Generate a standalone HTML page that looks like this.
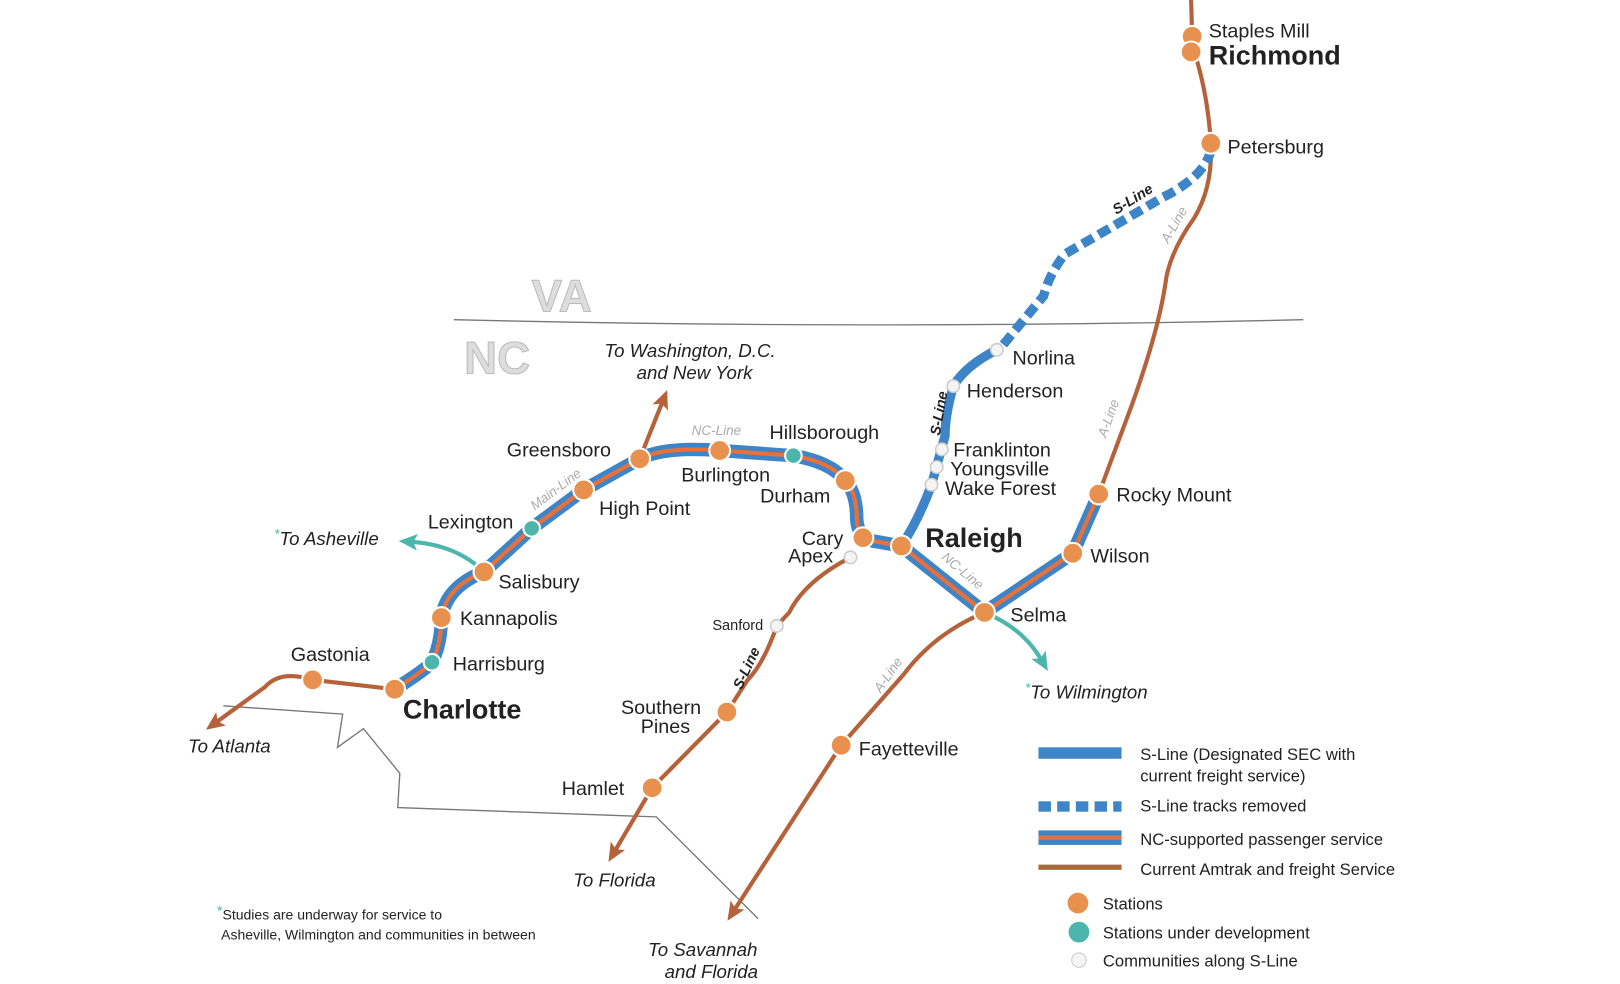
<!DOCTYPE html>
<html><head><meta charset="utf-8"><style>
html,body{margin:0;padding:0;background:#fff;}
svg{display:block;}
text{font-family:"Liberation Sans",sans-serif;fill:#222;}
.l{font-size:19px;}
.b{font-size:26px;font-weight:bold;}
.i{font-size:18px;font-style:italic;}
.g{font-size:13px;font-style:italic;fill:#aaa;}
.s{font-size:14px;font-style:italic;font-weight:bold;fill:#222;}
.lg{font-size:16px;}
</style></head><body>
<svg width="1620" height="984" viewBox="0 0 1560 948" preserveAspectRatio="none" xmlns="http://www.w3.org/2000/svg">
<defs>
<marker id="ab" markerWidth="18" markerHeight="16" refX="6" refY="8" orient="auto" markerUnits="userSpaceOnUse"><path d="M0,0 L18,8 L0,16 L4,8 Z" fill="#b5613a"/></marker>
<marker id="at" markerWidth="18" markerHeight="16" refX="6" refY="8" orient="auto" markerUnits="userSpaceOnUse"><path d="M0,0 L18,8 L0,16 L4,8 Z" fill="#4db6ac"/></marker>
</defs>
<path d="M437,308 Q846,318 1255,308" fill="none" stroke="#777" stroke-width="1.3"/>
<path d="M215,680 L330,688 L325,720 L350,702 L385,745 L383,778 L632,787 L730,885" fill="none" stroke="#777" stroke-width="1.3"/>
<text x="512" y="300" style="font-size:44px;font-weight:bold;fill:#ddd;stroke:#bbb;stroke-width:1">VA</text>
<text x="447" y="360" style="font-size:44px;font-weight:bold;fill:#ddd;stroke:#bbb;stroke-width:1">NC</text>

<g fill="none" stroke="#b5613a" stroke-width="4" stroke-linecap="round">
<path d="M1147,0 L1148,35 L1150,50 Q1163,90 1166,138 Q1168,180 1150,210 Q1125,245 1122,275 Q1115,320 1090,390 L1058,476"/>
<path d="M948,590 Q900,610 870,650 L810,718 L707,877" marker-end="url(#ab)"/>
<path d="M380,664 L301,655 Q270,645 255,662 L208,696" marker-end="url(#ab)"/>
<path d="M616,442 L638,387" marker-end="url(#ab)"/>
<path d="M819,537 Q775,560 760,590 L748,603 Q735,640 720,655 L700,686 L628,759 L592,820" marker-end="url(#ab)"/>
</g>
<g fill="none" stroke="#4db6ac" stroke-width="4">
<path d="M466,551 Q440,525 396,522" marker-end="url(#at)"/>
<path d="M948,590 Q985,605 1003,636" marker-end="url(#at)"/>
</g>
<path d="M1166,145 Q1160,170 1120,190 Q1060,225 1025,245 Q1010,265 1005,285 L962,337" fill="none" stroke="#3d85c6" stroke-width="9" stroke-dasharray="12,6"/>
<path d="M960,337 Q930,352 918,372 Q910,400 910,420 L897,467 Q885,500 868,526" fill="none" stroke="#3d85c6" stroke-width="9"/>
<path d="M380,664 Q410,645 416,638 Q425,620 425,595 Q430,565 466,551 L512,509 L562,472 L616,442 Q640,430 693,434 L764,439 Q800,445 814,463 Q825,475 825,500 Q826,520 845,522 L868,526 L948,590 L1033,533 L1058,476" fill="none" stroke="#3d85c6" stroke-width="13" stroke-linejoin="round"/>
<path d="M380,664 Q410,645 416,638 Q425,620 425,595 Q430,565 466,551 L512,509 L562,472 L616,442 Q640,430 693,434 L764,439 Q800,445 814,463 Q825,475 825,500 Q826,520 845,522 L868,526 L948,590 L1033,533 L1058,476" fill="none" stroke="#e8703a" stroke-width="4" stroke-linejoin="round"/>

<text class="s" transform="translate(1075,207) rotate(-32)">S-Line</text>
<text class="s" transform="translate(905,420) rotate(-80)">S-Line</text>
<text class="s" transform="translate(714,665) rotate(-65)">S-Line</text>
<text class="g" transform="translate(1125,235) rotate(-60)">A-Line</text>
<text class="g" transform="translate(1065,422) rotate(-70)">A-Line</text>
<text class="g" transform="translate(848,668) rotate(-55)">A-Line</text>
<text class="g" transform="translate(515,492) rotate(-37)">Main-Line</text>
<text class="g" x="666" y="419">NC-Line</text>
<text class="g" transform="translate(906,538) rotate(40)">NC-Line</text>

<g stroke="#fff" stroke-width="2">
<g fill="#e8914f">
<circle cx="1148" cy="35" r="10"/><circle cx="1147" cy="50" r="10"/><circle cx="1166" cy="138" r="10"/>
<circle cx="1058" cy="476" r="10"/><circle cx="1033" cy="533" r="10"/><circle cx="948" cy="590" r="10"/>
<circle cx="810" cy="718" r="10"/><circle cx="868" cy="526" r="10"/><circle cx="831" cy="518" r="10"/>
<circle cx="814" cy="463" r="10"/><circle cx="693" cy="434" r="10"/><circle cx="616" cy="442" r="10"/>
<circle cx="562" cy="472" r="10"/><circle cx="466" cy="551" r="10"/><circle cx="425" cy="595" r="10"/>
<circle cx="380" cy="664" r="10"/><circle cx="301" cy="655" r="10"/><circle cx="700" cy="686" r="10"/>
<circle cx="628" cy="759" r="10"/>
</g>
<g fill="#4db6ac"><circle cx="764" cy="439" r="8"/><circle cx="512" cy="509" r="8"/><circle cx="416" cy="638" r="8"/></g>
<g fill="#f4f4f4" stroke="#ccc" stroke-width="1.5"><circle cx="960" cy="337" r="6"/><circle cx="918" cy="372" r="6"/><circle cx="907" cy="433" r="6"/><circle cx="902" cy="450" r="6"/><circle cx="897" cy="467" r="6"/><circle cx="819" cy="537" r="6"/><circle cx="748" cy="603" r="6"/></g>
</g>

<text class="l" x="1164" y="36">Staples Mill</text>
<text class="b" x="1164" y="62">Richmond</text>
<text class="l" x="1182" y="148">Petersburg</text>
<text class="l" x="975" y="351">Norlina</text>
<text class="l" x="931" y="383">Henderson</text>
<text class="l" x="918" y="440">Franklinton</text>
<text class="l" x="915" y="458">Youngsville</text>
<text class="l" x="910" y="477">Wake Forest</text>
<text class="l" x="1075" y="483">Rocky Mount</text>
<text class="l" x="1050" y="542">Wilson</text>
<text class="b" x="891" y="527">Raleigh</text>
<text class="l" x="973" y="599">Selma</text>
<text class="l" x="827" y="728">Fayetteville</text>
<text class="l" x="772" y="525">Cary</text>
<text class="l" x="759" y="542">Apex</text>
<text x="686" y="607" style="font-size:14px">Sanford</text>
<text class="l" x="598" y="688">Southern</text>
<text class="l" x="617" y="706">Pines</text>
<text class="l" x="541" y="766">Hamlet</text>
<text class="l" x="741" y="423">Hillsborough</text>
<text class="l" x="656" y="464">Burlington</text>
<text class="l" x="732" y="484">Durham</text>
<text class="l" x="488" y="440">Greensboro</text>
<text class="l" x="577" y="496">High Point</text>
<text class="l" x="412" y="509">Lexington</text>
<text class="l" x="480" y="567">Salisbury</text>
<text class="l" x="443" y="602">Kannapolis</text>
<text class="l" x="436" y="646">Harrisburg</text>
<text class="l" x="280" y="637">Gastonia</text>
<text class="b" x="388" y="692">Charlotte</text>
<text class="i" x="582" y="344">To Washington, D.C.</text>
<text class="i" x="613" y="365">and New York</text>
<text class="i" x="264" y="525"><tspan style="fill:#4db6ac;font-size:13px" dy="-6">*</tspan><tspan dy="6">To Asheville</tspan></text>
<text class="i" x="987" y="673"><tspan style="fill:#4db6ac;font-size:13px" dy="-6">*</tspan><tspan dy="6">To Wilmington</tspan></text>
<text class="i" x="181" y="725">To Atlanta</text>
<text class="i" x="552" y="854">To Florida</text>
<text class="i" x="624" y="921">To Savannah</text>
<text class="i" x="640" y="942">and Florida</text>
<text x="209" y="886" style="font-size:13.5px"><tspan style="fill:#4db6ac" dy="-4">*</tspan><tspan dy="4">Studies are underway for service to</tspan></text>
<text x="213" y="905" style="font-size:13.5px">Asheville, Wilmington and communities in between</text>

<rect x="1000" y="720" width="80" height="11" fill="#3d85c6"/>
<g fill="#3d85c6"><rect x="1000" y="772" width="12" height="10"/><rect x="1018" y="772" width="12" height="10"/><rect x="1036" y="772" width="12" height="10"/><rect x="1054" y="772" width="12" height="10"/><rect x="1072" y="772" width="8" height="10"/></g>
<rect x="1000" y="800" width="80" height="14" fill="#3d85c6"/><rect x="1000" y="805" width="80" height="4" fill="#e8703a"/>
<rect x="1000" y="833" width="80" height="5" fill="#b5613a"/>
<text class="lg" x="1098" y="732">S-Line (Designated SEC with</text>
<text class="lg" x="1098" y="753">current freight service)</text>
<text class="lg" x="1098" y="782">S-Line tracks removed</text>
<text class="lg" x="1098" y="814">NC-supported passenger service</text>
<text class="lg" x="1098" y="843">Current Amtrak and freight Service</text>
<circle cx="1038" cy="870" r="10" fill="#e8914f"/>
<circle cx="1039" cy="898" r="10" fill="#4db6ac"/>
<circle cx="1039" cy="925" r="7" fill="#f4f4f4" stroke="#ccc"/>
<text class="lg" x="1062" y="876">Stations</text>
<text class="lg" x="1062" y="904">Stations under development</text>
<text class="lg" x="1062" y="931">Communities along S-Line</text>
</svg>
</body></html>
